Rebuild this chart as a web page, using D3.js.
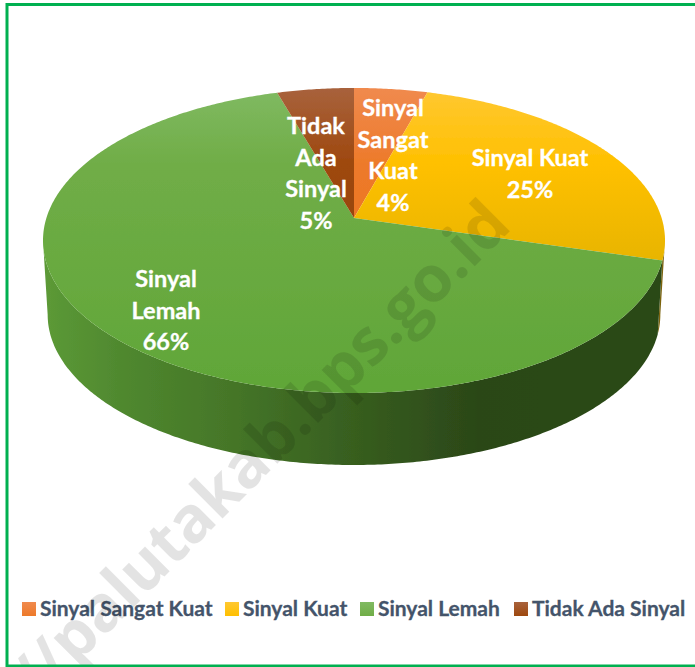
<!DOCTYPE html>
<html>
<head>
<meta charset="utf-8">
<script src="https://cdnjs.cloudflare.com/ajax/libs/d3/7.8.5/d3.min.js"></script>
<style>
html, body { margin: 0; padding: 0; background: #fff; }
svg { display: block; }
text { font-family: Lato, "Open Sans", sans-serif; font-weight: 700; }
</style>
</head>
<body>
<div class="chart"></div>
<script>
var categories = ['Sinyal Sangat Kuat', 'Sinyal Kuat', 'Sinyal Lemah', 'Tidak Ada Sinyal'];
var values = [4.4, 25, 66, 4.6];
var labelLines = [
    ['Sinyal', 'Sangat', 'Kuat'],
    ['Sinyal Kuat'],
    ['Sinyal', 'Lemah'],
    ['Tidak', 'Ada', 'Sinyal']
];

var width = 695, height = 667;

// label centre (x, first line y) and legend swatch x, by hand from the picture
var labelPos = [[393, 108], [530, 158], [166, 279], [316, 126]];
var legendX = [22, 225, 360, 514];

var topStops = [
    ['#f08a4e', '#ed7a2a', '#ec7018'],
    ['#ffc832', '#ffc000', '#c9a500'],
    ['#80ba62', '#70ad47', '#60a638'],
    ['#a8623c', '#9e480e', '#8a3e0b']
];
var sideColor = ['#8a4a1c', '#7c6410'];

// tilted disc: k is the perspective strength
var cx = 354, cy = 218, A = 307.6, B = 149.2, k = 0.1475;
var sideDrop = 74.6, sideScale = 0.985;

function project(a, lower) {
    var X = Math.sin(a), Y = Math.cos(a);
    var w = 1 + k * Y;
    var s = lower ? sideScale : 1;
    return [cx + s * A * X / w, cy - s * B * Y / w + (lower ? sideDrop : 0)];
}

function rim(a0, a1, lower) {
    var step = a1 > a0 ? 0.01 : -0.01;
    var pts = d3.range(a0, a1, step).map(function (a) { return project(a, lower); });
    pts.push(project(a1, lower));
    return pts;
}

var svg = d3.select('.chart').append('svg')
    .attr('width', width)
    .attr('height', height);

var defs = svg.append('defs');
defs.append('filter').attr('id', 'soft')
    .append('feGaussianBlur').attr('stdDeviation', 0.5);

var line = d3.line();
var arcs = d3.pie().sort(null)(values);

topStops.forEach(function (stops, i) {
    var g = defs.append('linearGradient').attr('id', 'top' + i)
        .attr('gradientUnits', 'userSpaceOnUse')
        .attr('x1', 0).attr('x2', 0).attr('y1', 88).attr('y2', 393);
    g.append('stop').attr('offset', 0).attr('stop-color', stops[0]);
    g.append('stop').attr('offset', 0.25).attr('stop-color', stops[1]);
    g.append('stop').attr('offset', 1).attr('stop-color', stops[2]);

    var s = defs.append('linearGradient').attr('id', 'swatch' + i)
        .attr('x1', 0).attr('x2', 0).attr('y1', 0).attr('y2', 1);
    s.append('stop').attr('offset', 0).attr('stop-color', stops[0]);
    s.append('stop').attr('offset', 1).attr('stop-color', stops[1]);
});

var sideGrad = defs.append('linearGradient').attr('id', 'sideGreen')
    .attr('gradientUnits', 'userSpaceOnUse')
    .attr('x1', 43).attr('x2', 665).attr('y1', 0).attr('y2', 0);
[[0, '#5c9a37'], [0.12, '#50892f'], [0.3, '#457628'], [0.5, '#375e1f'], [0.7, '#2b4718'], [1, '#2c4a19']].forEach(function (d) {
    sideGrad.append('stop').attr('offset', d[0]).attr('stop-color', d[1]);
});

var pie = svg.append('g').attr('filter', 'url(#soft)');

// side wall runs between the two tangent points of the disc outline
var frontStart = Math.acos(-k), frontEnd = 2 * Math.PI - frontStart;
arcs.forEach(function (d, i) {
    var a0 = Math.max(d.startAngle, frontStart), a1 = Math.min(d.endAngle, frontEnd);
    if (a1 <= a0) return;
    pie.append('path')
        .attr('d', line(rim(a0, a1, false).concat(rim(a1, a0, true))) + 'Z')
        .attr('fill', i === 2 ? 'url(#sideGreen)' : sideColor[i]);
});

arcs.forEach(function (d, i) {
    pie.append('path')
        .attr('d', line([[cx, cy]].concat(rim(d.startAngle, d.endAngle, false))) + 'Z')
        .attr('fill', 'url(#top' + i + ')');
});

// data labels
var pct = d3.format('.0f');
arcs.forEach(function (d, i) {
    var lines = labelLines[i].concat([pct(d.data) + '%']);
    lines.forEach(function (t, j) {
        svg.append('text')
            .attr('x', labelPos[i][0])
            .attr('y', labelPos[i][1] + j * 31.5)
            .attr('dy', '0.35em')
            .attr('text-anchor', 'middle')
            .attr('font-size', 23.5)
            .attr('fill', '#fff')
            .attr('stroke', '#fff')
            .attr('stroke-width', 0.3)
            .text(t);
    });
});

// legend
categories.forEach(function (c, i) {
    svg.append('rect')
        .attr('x', legendX[i]).attr('y', 602)
        .attr('width', 14).attr('height', 14)
        .attr('fill', 'url(#swatch' + i + ')');
    svg.append('text')
        .attr('x', legendX[i] + 18).attr('y', 616)
        .attr('font-size', 21)
        .attr('fill', '#44546a')
        .attr('stroke', '#44546a')
        .attr('stroke-width', 0.3)
        .text(c);
});

// watermark, runs off the bottom left corner like the original
svg.append('text')
    .attr('transform', 'translate(513,228) rotate(-45)')
    .attr('text-anchor', 'end')
    .attr('font-size', 64)
    .attr('letter-spacing', -0.5)
    .style('font-family', '"Open Sans", sans-serif')
    .style('font-weight', 700)
    .attr('fill', '#000')
    .attr('fill-opacity', 0.11)
    .text('://palutakab.bps.go.id');

// frame
svg.append('rect')
    .attr('x', 7).attr('y', 4.5)
    .attr('width', width + 20).attr('height', 661.5)
    .attr('fill', 'none')
    .attr('stroke', '#00b050')
    .attr('stroke-width', 3);
</script>
</body>
</html>
